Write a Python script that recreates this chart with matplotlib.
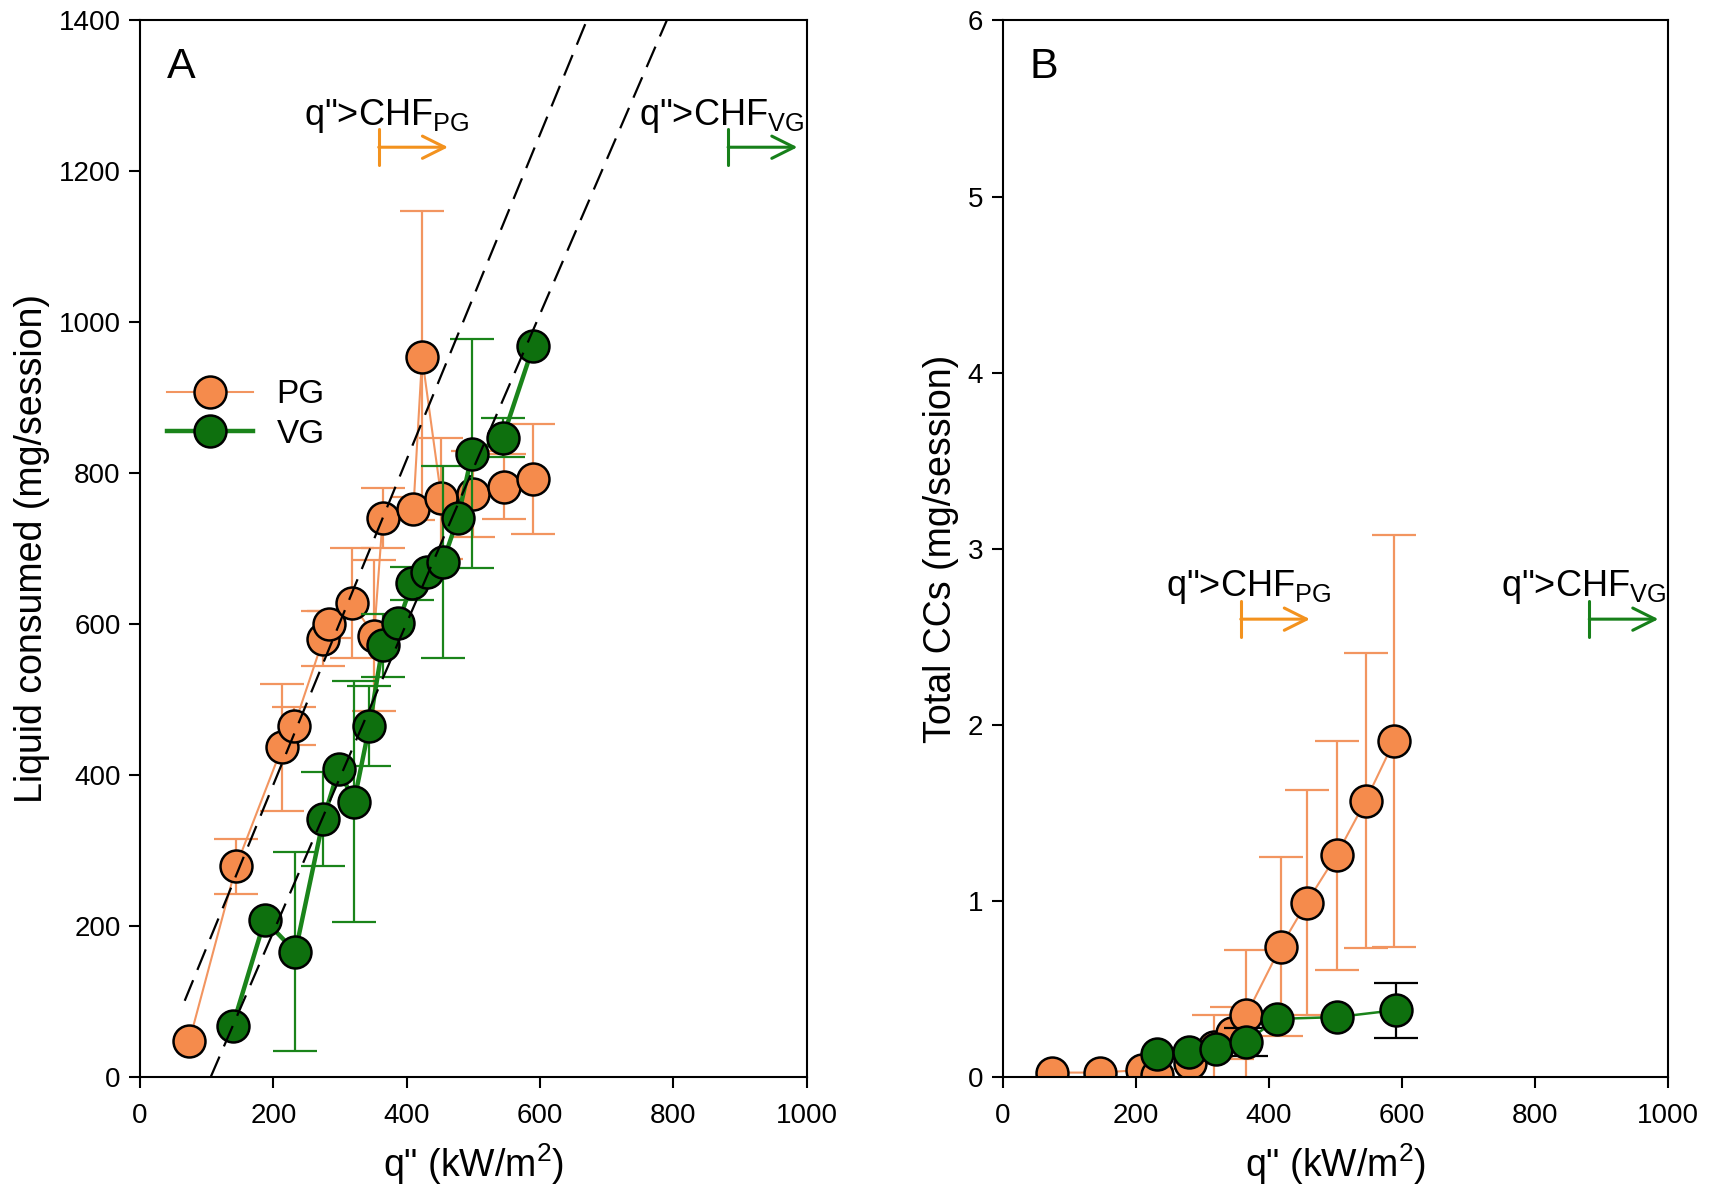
# two panels: liquid consumed and total CCs against heat flux, PG vs VG

from matplotlib import pyplot as plt
import numpy as np

plt.rcParams['font.family'] = ['Liberation Sans', 'DejaVu Sans']
plt.rcParams['mathtext.fontset'] = 'custom'
plt.rcParams['mathtext.rm'] = 'Liberation Sans'
plt.rcParams['mathtext.it'] = 'Liberation Sans:italic'

# panel A - liquid consumed (mg/session)
pg_a_q = [74, 144, 213, 231, 275, 284, 318, 351, 364, 410, 423, 452, 500, 546, 590]
pg_a = [48, 279, 437, 465, 581, 600, 628, 585, 741, 753, 954, 767, 773, 782, 792]
pg_a_err = [0, 37, 84, 25, 37, 18, 73, 100, 40, 15, 193, 80, 57, 43, 73]

vg_a_q = [139, 187, 233, 275, 298, 321, 344, 364, 387, 408, 431, 454, 477, 498, 544, 590]
vg_a = [68, 208, 166, 342, 408, 365, 465, 572, 601, 654, 669, 682, 741, 826, 847, 969]
vg_a_err = [0, 0, 132, 62, 0, 160, 53, 42, 0, 22, 0, 127, 0, 152, 26, 0]

# dashed guide lines
fit_pg_q = [67, 670]
fit_pg = [101, 1400]
fit_vg_q = [106, 790]
fit_vg = [0, 1400]

# panel B - total CCs (mg/session)
pg_b_q = [74, 146, 210, 232, 282, 318, 345, 366, 418, 457, 502, 546, 589]
pg_b = [0.025, 0.025, 0.04, 0.01, 0.08, 0.17, 0.25, 0.35, 0.74, 0.99, 1.26, 1.57, 1.91]
pg_b_err = [0, 0, 0, 0, 0, 0.18, 0.15, 0.37, 0.51, 0.64, 0.65, 0.84, 1.17]

vg_b_q = [232, 280, 321, 366, 413, 502, 592]
vg_b = [0.13, 0.14, 0.16, 0.20, 0.33, 0.34, 0.38]
vg_b_err = [0, 0, 0, 0.08, 0, 0, 0.156]

orange_face = '#F58B4C'
orange_line = '#F29560'
green_face = '#0E700E'
green_line = '#1A841A'
arrow_orange = '#F3921E'
arrow_green = '#17801A'


def series(ax, q, v, err, face, line, lw, ecolor, z, label=None):
    q, v, err = np.array(q), np.array(v), np.array(err)
    has = err > 0
    ax.errorbar(q[has], v[has], yerr=err[has], fmt='none', ecolor=ecolor,
                elinewidth=1.6, capsize=16, capthick=1.6, zorder=z)
    ax.plot(q, v, '-o', color=line, lw=lw, markersize=23, markerfacecolor=face,
            markeredgecolor='black', markeredgewidth=1.8, label=label, zorder=z)


fig = plt.figure(figsize=(17.14, 12.02), dpi=100)
axA = fig.add_axes([0.0817, 0.104, 0.389, 0.879])
axB = fig.add_axes([0.585, 0.104, 0.388, 0.879])

# panel A
axA.plot(fit_pg_q, fit_pg, color='black', lw=1.6, dashes=(10, 5), zorder=5)
axA.plot(fit_vg_q, fit_vg, color='black', lw=1.6, dashes=(10, 5), zorder=5)
series(axA, pg_a_q, pg_a, pg_a_err, orange_face, orange_line, 1.5, orange_line, 2, 'PG')
series(axA, vg_a_q, vg_a, vg_a_err, green_face, green_line, 3.2, green_line, 3, 'VG')

axA.set_xlim(0, 1000)
axA.set_ylim(0, 1400)
axA.set_yticks(np.arange(0, 1401, 200))
axA.set_ylabel('Liquid consumed (mg/session)', fontsize=27, labelpad=6)
axA.text(0.04, 0.975, 'A', transform=axA.transAxes, fontsize=31, va='top')

axA.legend(loc='center left', bbox_to_anchor=(0.0, 0.627), frameon=False,
           fontsize=24, handlelength=2.6, labelspacing=0.25, handletextpad=0.7,
           borderaxespad=0.4)

# panel B
series(axB, pg_b_q, pg_b, pg_b_err, orange_face, orange_line, 1.5, orange_line, 2)
series(axB, vg_b_q, vg_b, vg_b_err, green_face, green_line, 1.8, 'black', 3)
axB.set_xlim(0, 1000)
axB.set_ylim(0, 6)
axB.set_yticks(np.arange(0, 7, 1))
axB.set_ylabel('Total CCs (mg/session)', fontsize=27, labelpad=6)
axB.text(0.04, 0.975, 'B', transform=axB.transAxes, fontsize=31, va='top')

# CHF annotations
arrow_style = ']->, widthA=0.32, lengthA=0'
for ax, y_txt, y_arr in [(axA, 1274, 1232), (axB, 2.78, 2.60)]:
    ax.text(246, y_txt, 'q">CHF$_{\\mathrm{PG}}$', fontsize=26, va='center', ha='left')
    ax.text(749, y_txt, 'q">CHF$_{\\mathrm{VG}}$', fontsize=26, va='center', ha='left')
    ax.annotate('', xy=(462, y_arr), xytext=(358, y_arr),
                arrowprops=dict(arrowstyle=arrow_style, mutation_scale=40,
                                color=arrow_orange, lw=2.2, shrinkA=0, shrinkB=0))
    ax.annotate('', xy=(986, y_arr), xytext=(882, y_arr),
                arrowprops=dict(arrowstyle=arrow_style, mutation_scale=40,
                                color=arrow_green, lw=2.2, shrinkA=0, shrinkB=0))

for ax in (axA, axB):
    ax.set_xticks(np.arange(0, 1001, 200))
    ax.set_xlabel('q" (kW/m$^2$)', fontsize=27, labelpad=9)
    ax.tick_params(direction='out', length=8, width=1.5, labelsize=20, pad=6)
    ax.tick_params(axis='x', pad=11)
    for s in ax.spines.values():
        s.set_linewidth(1.5)

plt.savefig('out.png', dpi=100)
